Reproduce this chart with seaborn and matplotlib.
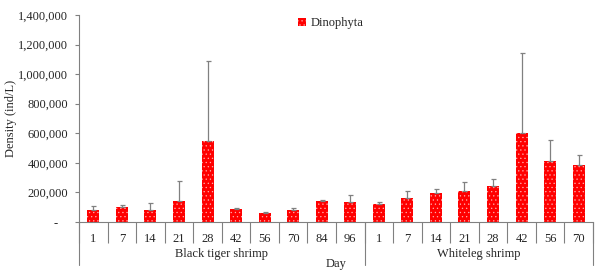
import numpy as np
import pandas as pd
import matplotlib
matplotlib.use("Agg")
import matplotlib.pyplot as plt
from matplotlib.ticker import FuncFormatter
import seaborn as sns

# data
bt_days = ["1", "7", "14", "21", "28", "42", "56", "70", "84", "96"]
bt_mean = [80000, 102000, 80000, 144000, 546000, 89000, 60000, 80000, 140000, 136000]
bt_err = [31000, 11000, 47000, 136000, 546000, 4000, 9000, 16000, 7000, 48000]

wl_days = ["1", "7", "14", "21", "28", "42", "56", "70"]
wl_mean = [124000, 160000, 198000, 207000, 244000, 600000, 413000, 387000]
wl_err = [14000, 49000, 26000, 66000, 45000, 545000, 140000, 68000]

groups = ["Black tiger shrimp", "Whiteleg shrimp"]

df = pd.DataFrame({
    "key": ["BT" + d for d in bt_days] + ["WL" + d for d in wl_days],
    "day": bt_days + wl_days,
    "density": bt_mean + wl_mean,
    "err": bt_err + wl_err,
    "taxon": "Dinophyta",
})

sns.set_style("white")
plt.rcParams["font.family"] = ["Liberation Serif", "DejaVu Serif"]
plt.rcParams["hatch.linewidth"] = 0.4

fig = plt.figure(figsize=(5.95, 2.71), dpi=100)
ax = fig.add_axes([0.1328, 0.1808, 0.8638, 0.7638])

sns.barplot(data=df, x="key", y="density", hue="taxon", palette=["#ff0000"],
            width=0.42, ax=ax, edgecolor="#ffb0b0", linewidth=0, saturation=1)
for p in ax.patches:
    p.set_hatch("....")

x = np.arange(len(df))
ax.errorbar(x, df["density"], yerr=[np.zeros(len(df)), df["err"]], fmt="none",
            ecolor="#808080", elinewidth=0.9, capsize=1.8, capthick=0.9)

ax.set_ylim(0, 1400000)
ax.set_xlim(-0.5, len(df) - 0.5)
ax.set_yticks(np.arange(0, 1400001, 200000))
ax.yaxis.set_major_formatter(FuncFormatter(lambda v, p: "-   " if v == 0 else f"{int(v):,}"))
ax.tick_params(axis="y", direction="out", length=3, width=0.8, color="#808080",
               labelsize=9, pad=5, left=True)

ax.set_xticks(x)
ax.set_xticklabels(df["day"])
ax.tick_params(axis="x", length=0, labelsize=9, pad=8)
ax.set_xticks(np.arange(-0.5, len(df), 1), minor=True)
ax.tick_params(axis="x", which="minor", direction="out", length=15, width=0.8,
               color="#808080", bottom=True)

# group separators and labels
trans = ax.get_xaxis_transform()
nb = len(bt_days)
for xb in [-0.5, nb - 0.5, len(df) - 0.5]:
    ax.plot([xb, xb], [0, -0.21], transform=trans, color="#808080", lw=0.8, clip_on=False)
ax.text((nb - 1) / 2, -0.155, groups[0], transform=trans, ha="center", va="center", fontsize=9)
ax.text(nb + (len(wl_days) - 1) / 2, -0.155, groups[1], transform=trans, ha="center",
        va="center", fontsize=9)
ax.text((len(df) - 1) / 2, -0.205, "Day", transform=trans, ha="center", va="center", fontsize=9)

ax.set_xlabel("")
ax.set_ylabel("Density (ind/L)", fontsize=9, labelpad=0.5)

sns.despine(ax=ax)
for s in ["left", "bottom"]:
    ax.spines[s].set_color("#808080")
    ax.spines[s].set_linewidth(0.8)

leg = ax.legend(loc="upper left", bbox_to_anchor=(0.405, 1.045), frameon=False,
                fontsize=9, handlelength=0.6, handleheight=0.6, handletextpad=0.4)
leg.set_title(None)

fig.savefig("out.png", dpi=100)
